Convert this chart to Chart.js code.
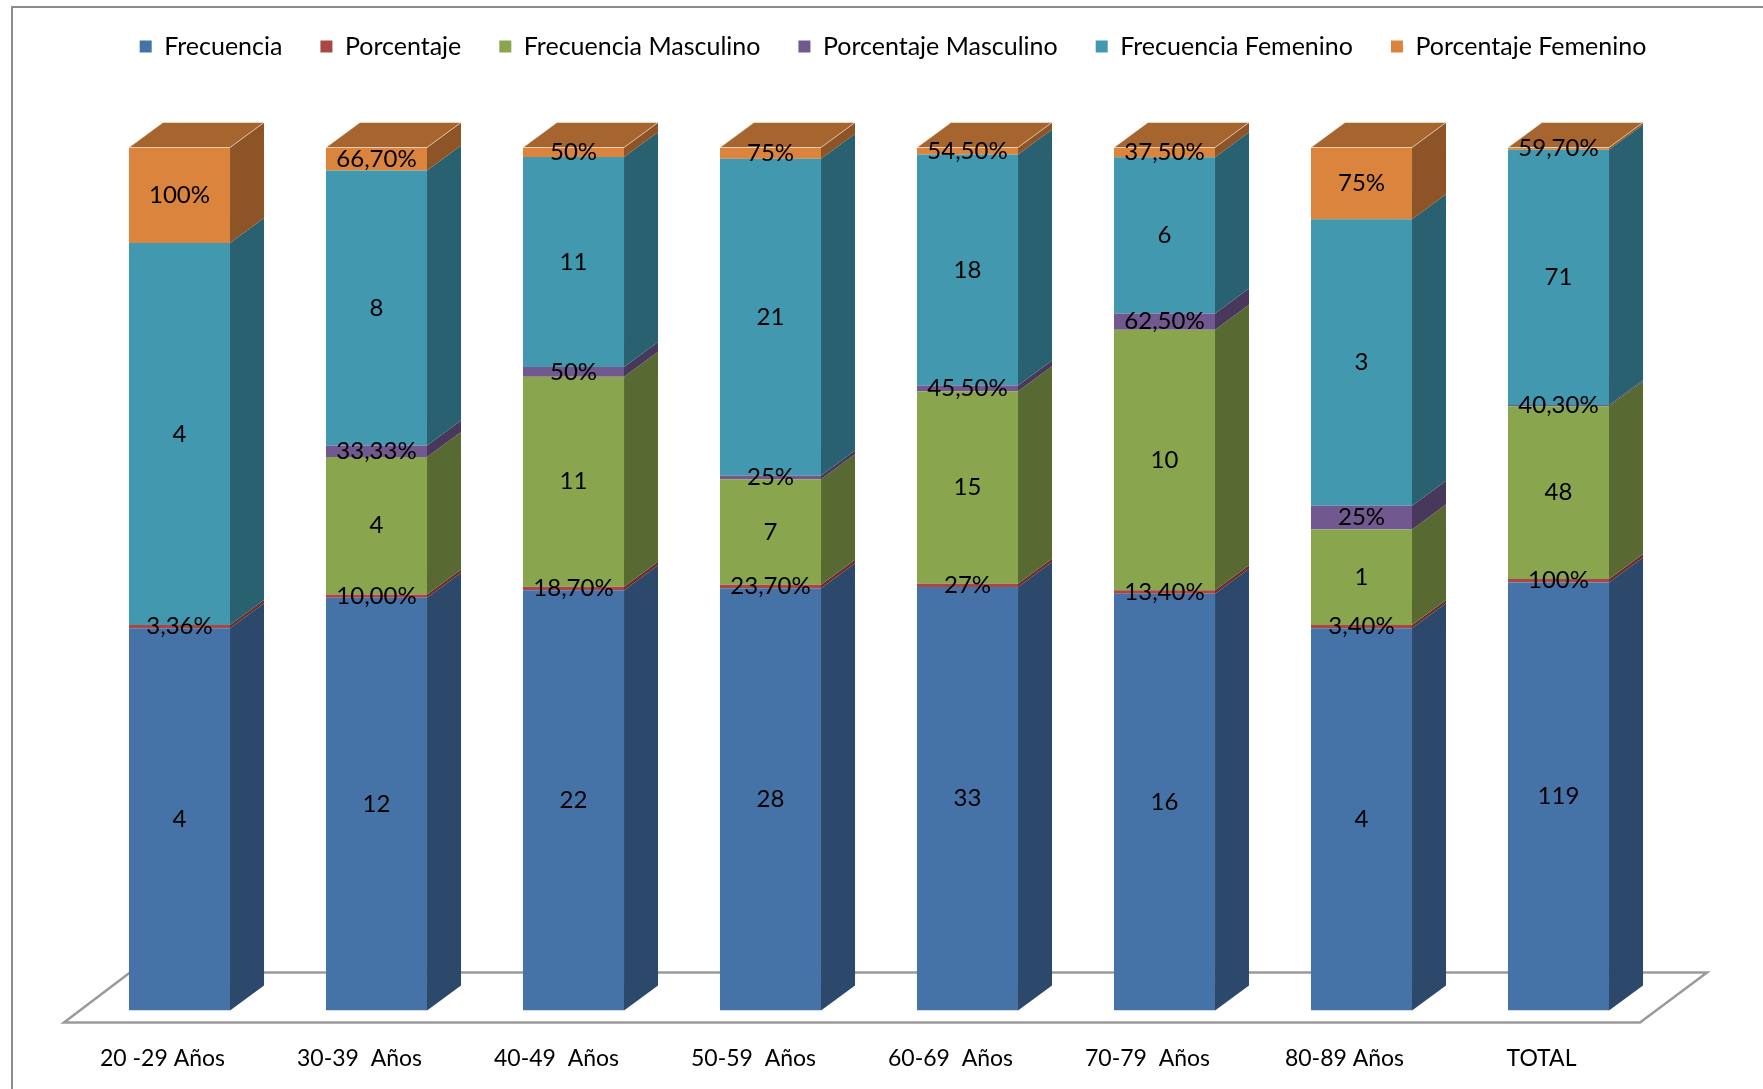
<!DOCTYPE html>
<html><head><meta charset="utf-8">
<script src="https://cdn.jsdelivr.net/npm/chart.js@4/dist/chart.umd.min.js"></script>
<style>
html,body{margin:0;padding:0;background:#fff;overflow:hidden;width:1763px;height:1089px}
#frame{position:absolute;left:11px;top:6px;width:3000px;height:3000px;border:2px solid #8c8c8c;box-sizing:border-box}
#c{position:absolute;left:0;top:0}
</style></head><body>
<div id="frame"></div>
<canvas id="c" width="1763" height="1089"></canvas>
<script>
const categories = ["20 -29 Años", "30-39  Años", "40-49  Años", "50-59  Años", "60-69  Años", "70-79  Años", "80-89 Años", "TOTAL"];
const frecuencia = [4, 12, 22, 28, 33, 16, 4, 119];
const porcentaje = ["3,36%", "10,00%", "18,70%", "23,70%", "27%", "13,40%", "3,40%", "100%"];
const frecMasculino = [0, 4, 11, 7, 15, 10, 1, 48];
const porcMasculino = ["", "33,33%", "50%", "25%", "45,50%", "62,50%", "25%", "40,30%"];
const frecFemenino = [4, 8, 11, 21, 18, 6, 3, 71];
const porcFemenino = ["100%", "66,70%", "50%", "75%", "54,50%", "37,50%", "75%", "59,70%"];
const seriesNames = ["Frecuencia", "Porcentaje", "Frecuencia Masculino", "Porcentaje Masculino", "Frecuencia Femenino", "Porcentaje Femenino"];
const seriesColors = ["#4572A7", "#AA4643", "#89A54E", "#71588F", "#4198AF", "#DB843D"];

const pct = s => s === "" ? 0 : parseFloat(s.replace(",", ".").replace("%", "")) / 100;
const raw = [
  frecuencia,
  porcentaje.map(pct),
  frecMasculino,
  porcMasculino.map(pct),
  frecFemenino,
  porcFemenino.map(pct)
];
const texts = [
  frecuencia.map(String),
  porcentaje,
  frecMasculino.map(String),
  porcMasculino,
  frecFemenino.map(String),
  porcFemenino
];
const totals = categories.map((_, j) => raw.reduce((s, arr) => s + arr[j], 0));

function shade(hex, f) {
  const n = parseInt(hex.slice(1), 16);
  const r = Math.round(((n >> 16) & 255) * f), g = Math.round(((n >> 8) & 255) * f), b = Math.round((n & 255) * f);
  return `rgb(${r},${g},${b})`;
}
const DX = 34, DY = 25;
const FONT = "Lato";

const bar3d = {
  id: 'bar3d',
  beforeDatasetsDraw(chart) {
    const {ctx, chartArea: a} = chart;
    ctx.save();
    ctx.strokeStyle = '#9a9a9a'; ctx.lineWidth = 2.5;
    const fy = a.bottom + 12, fl = a.left - 17, fr = a.right - 17;
    ctx.beginPath();
    ctx.moveTo(fl, fy); ctx.lineTo(fr, fy); ctx.lineTo(fr + 67, fy - 50); ctx.lineTo(fl + 66, fy - 50); ctx.closePath();
    ctx.stroke();
    ctx.restore();
  },
  afterDatasetsDraw(chart) {
    const ctx = chart.ctx;
    const ds = chart.data.datasets;
    const n = chart.data.labels.length;
    ctx.save();
    for (let j = 0; j < n; j++) {
      let topIdx = -1;
      ds.forEach((d, i) => { if (d.data[j] > 0) topIdx = i; });
      ds.forEach((d, i) => {
        if (!(d.data[j] > 0)) return;
        const el = chart.getDatasetMeta(i).data[j];
        const l = el.x - el.width / 2, r = el.x + el.width / 2;
        const t = Math.min(el.y, el.base), b = Math.max(el.y, el.base);
        ctx.fillStyle = shade(d.backgroundColor, 0.64);
        ctx.beginPath();
        ctx.moveTo(r, b); ctx.lineTo(r + DX, b - DY); ctx.lineTo(r + DX, t - DY); ctx.lineTo(r, t); ctx.closePath();
        ctx.fill();
        if (i === topIdx) {
          ctx.fillStyle = shade(d.backgroundColor, 0.76);
          ctx.beginPath();
          ctx.moveTo(l, t); ctx.lineTo(l + DX, t - DY); ctx.lineTo(r + DX, t - DY); ctx.lineTo(r, t); ctx.closePath();
          ctx.fill();
          ctx.strokeStyle = 'rgba(255,235,215,0.6)'; ctx.lineWidth = 1;
          ctx.stroke();
        }
      });
    }
    ctx.fillStyle = '#000';
    ctx.font = `24px ${FONT}`;
    ctx.textAlign = 'center';
    ctx.textBaseline = 'middle';
    ds.forEach((d, i) => {
      chart.getDatasetMeta(i).data.forEach((el, j) => {
        if (!(d.data[j] > 0)) return;
        ctx.fillText(d.labelTexts[j], el.x, (el.y + el.base) / 2);
      });
    });
    ctx.restore();
  }
};

const datasets = seriesNames.map((name, i) => ({
  label: name,
  data: raw[i].map((v, j) => v / totals[j]),
  labelTexts: texts[i],
  backgroundColor: seriesColors[i],
  borderWidth: 0,
  categoryPercentage: 1,
  barPercentage: 0.513
}));

new Chart(document.getElementById('c'), {
  type: 'bar',
  data: { labels: categories, datasets },
  options: {
    responsive: false,
    animation: false,
    devicePixelRatio: 1,
    layout: { padding: { top: -4, left: 81, right: 58, bottom: -17 } },
    plugins: {
      tooltip: { enabled: false },
      legend: {
        position: 'top',
        labels: { boxWidth: 12, boxHeight: 12, padding: 38, color: '#000', font: { family: FONT, size: 25 } }
      },
      subtitle: {
        display: true, text: ' ', weight: 500, position: 'top',
        font: { size: 10, lineHeight: 1 }, padding: { top: 68.5, bottom: 0 }
      }
    },
    scales: {
      x: {
        stacked: true,
        grid: { display: false, drawTicks: false },
        border: { display: false },
        ticks: { color: '#000', font: { family: FONT, size: 23 }, padding: 34, labelOffset: -17, maxRotation: 0, autoSkip: false }
      },
      y: {
        stacked: true, min: 0, max: 1, position: 'right',
        grid: { display: false, drawTicks: false },
        border: { display: false },
        ticks: { display: false },
        afterFit: (scale) => { scale.width = 48; }
      }
    }
  },
  plugins: [bar3d]
});
</script></body></html>
